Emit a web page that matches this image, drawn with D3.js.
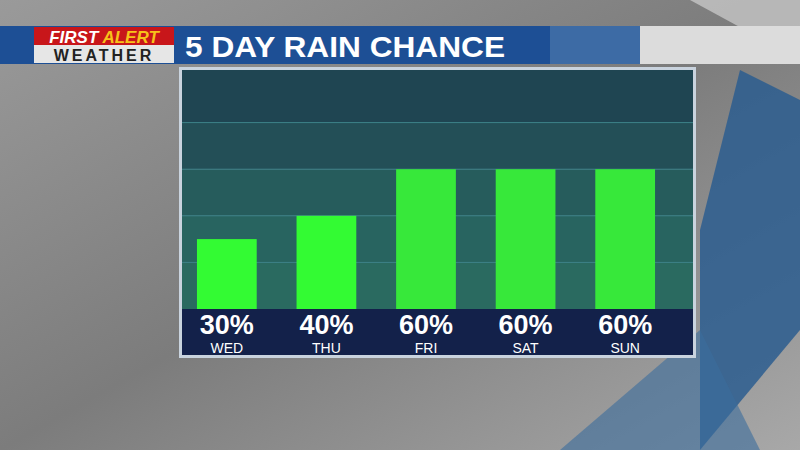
<!DOCTYPE html><html><head><meta charset="utf-8"><script src="https://d3js.org/d3.v7.min.js"></script>
<style>body{margin:0;background:#888}svg{display:block}</style></head><body><svg id="c" width="800" height="450"></svg>
<script>
const days=["WED","THU","FRI","SAT","SUN"];
const chance=[30,40,60,60,60];
const gridTicks=[20,40,60,80];
const title="5 DAY RAIN CHANCE";
const svg=d3.select("#c");
const defs=svg.append("defs");
const g1=defs.append("linearGradient").attr("id","bg").attr("x1",0).attr("y1",0).attr("x2",1).attr("y2",1);
g1.append("stop").attr("offset",0).attr("stop-color","#9a9a9a");
g1.append("stop").attr("offset",0.5).attr("stop-color","#7c7c7c");
g1.append("stop").attr("offset",1).attr("stop-color","#a8a8a8");
svg.append("rect").attr("width",800).attr("height",450).attr("fill","url(#bg)");
svg.append("path").attr("d","M700,450 L800,330 L800,100 L740,70 L700,230 Z").attr("fill","#2c5d8f").attr("opacity",0.85);
svg.append("path").attr("d","M560,450 L700,330 L760,450 Z").attr("fill","#3a6d9c").attr("opacity",0.6);
svg.append("path").attr("d","M690,0 L800,0 L800,60 Z").attr("fill","#d0d0d0").attr("opacity",0.7);
svg.append("rect").attr("x",0).attr("y",26).attr("width",800).attr("height",38).attr("fill","#dcdcdc");
svg.append("rect").attr("x",0).attr("y",26).attr("width",640).attr("height",38).attr("fill","#1d4f95");
svg.append("rect").attr("x",550).attr("y",26).attr("width",90).attr("height",38).attr("fill","#4b78ad").attr("opacity",0.7);
svg.append("rect").attr("x",34).attr("y",27).attr("width",140).attr("height",18).attr("fill","#c8161a");
svg.append("rect").attr("x",34).attr("y",45).attr("width",140).attr("height",18).attr("fill","#e6e6e6");
svg.append("text").attr("x",104).attr("y",43).attr("text-anchor","middle").attr("font-family","Liberation Sans").attr("font-style","italic").attr("font-weight","bold").attr("font-size",17)
 .selectAll("tspan").data([["FIRST ","#fff"],["ALERT","#f7c21a"]]).join("tspan").attr("fill",d=>d[1]).text(d=>d[0]);
svg.append("text").attr("x",104).attr("y",61).attr("text-anchor","middle").attr("font-family","Liberation Sans").attr("font-weight","bold").attr("font-size",16).attr("letter-spacing",3).attr("fill","#222").text("WEATHER");
svg.append("text").attr("x",185).attr("y",57).attr("font-family","Liberation Sans").attr("font-weight","bold").attr("font-size",30).attr("textLength",320).attr("lengthAdjust","spacingAndGlyphs").attr("fill","#fff").text(title);
const L=182,R=693,T=70,B=309;
svg.append("rect").attr("x",L-3).attr("y",T-3).attr("width",R-L+6).attr("height",355-T+6).attr("fill","#c9d3de");
const y=d3.scaleLinear().domain([0,100]).range([B,76]);
const bands=[0,20,40,60,80,100];
const bandCols=["#2a6a60","#286460","#265c5c","#234f57","#1f4552"];
svg.selectAll(".band").data(d3.range(5)).join("rect").attr("x",L).attr("width",R-L)
 .attr("y",i=>i==4?T:y(bands[i+1])).attr("height",i=>(i==0?B:y(bands[i]))-(i==4?T:y(bands[i+1]))).attr("fill",i=>bandCols[i]);
svg.append("g").selectAll("line").data(gridTicks).join("line").attr("x1",L).attr("x2",R).attr("y1",d=>y(d)).attr("y2",d=>y(d)).attr("stroke","#3a7f86").attr("stroke-width",1);
svg.append("rect").attr("x",L).attr("y",B).attr("width",R-L).attr("height",355-B).attr("fill","#13214a");
const x=d3.scaleBand().domain(days).range([L+5,R-28]).paddingInner(0.4).paddingOuter(0.1);
svg.selectAll(".bar").data(days).join("rect").attr("x",d=>x(d)).attr("width",x.bandwidth())
 .attr("y",(d,i)=>y(chance[i])).attr("height",(d,i)=>B-y(chance[i])).attr("fill",(d,i)=>i<2?"#33fb33":"#37e83a");
svg.selectAll(".pct").data(days).join("text").attr("x",d=>x(d)+x.bandwidth()/2).attr("y",334).attr("text-anchor","middle")
 .attr("font-family","Liberation Sans").attr("font-weight","bold").attr("font-size",27).attr("fill","#fff").text((d,i)=>chance[i]+"%");
svg.selectAll(".day").data(days).join("text").attr("x",d=>x(d)+x.bandwidth()/2).attr("y",353).attr("text-anchor","middle")
 .attr("font-family","Liberation Sans").attr("font-size",14).attr("fill","#fff").text(d=>d);
</script></body></html>
